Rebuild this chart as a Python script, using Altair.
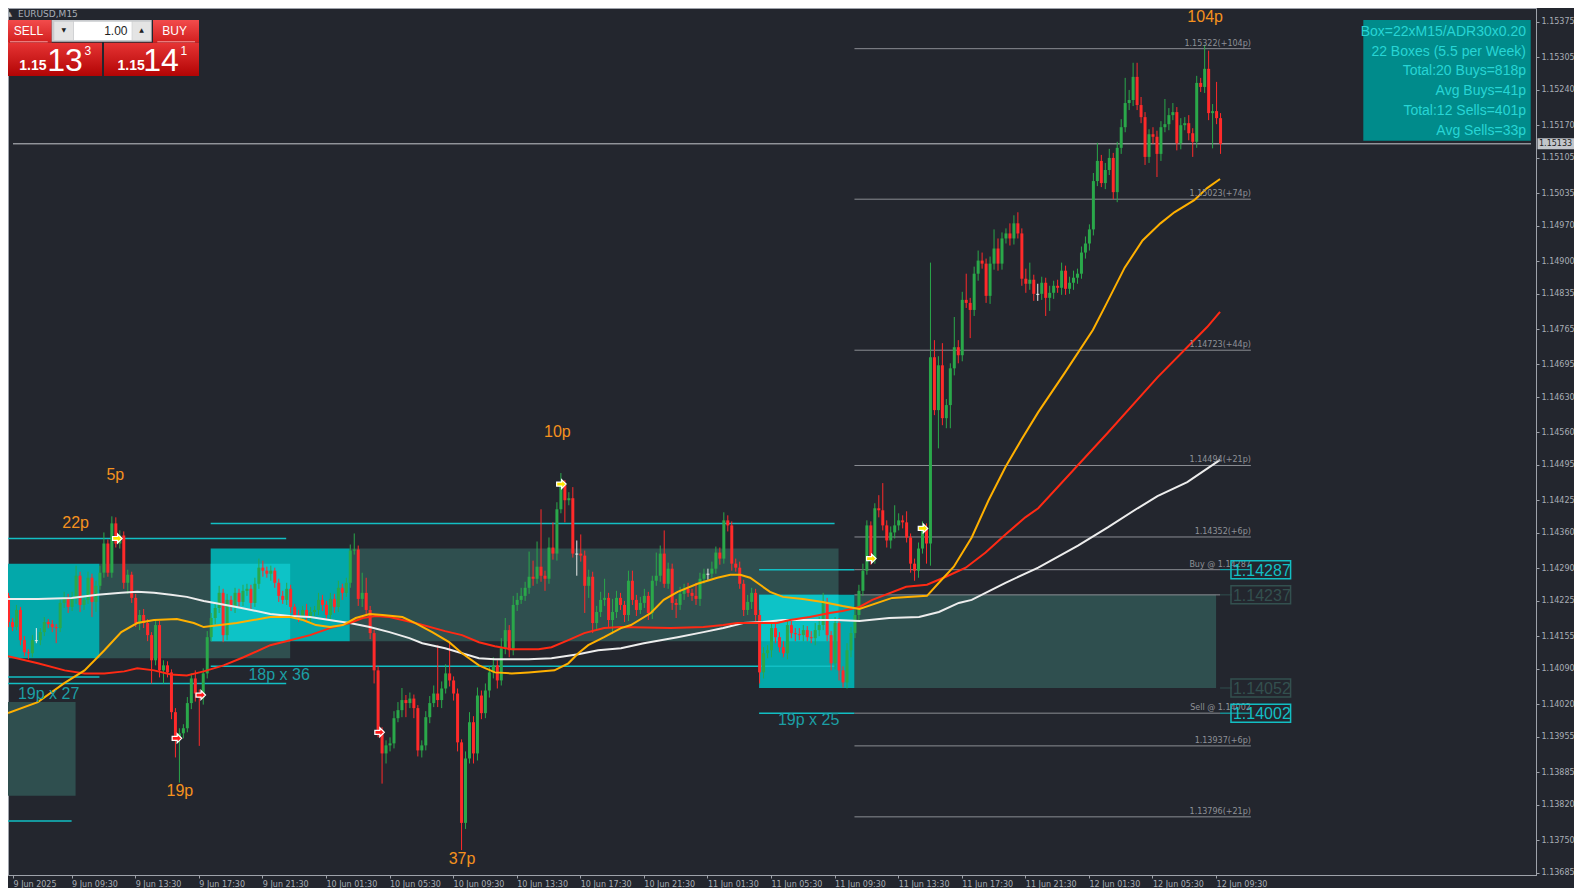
import altair as alt
import pandas as pd

# ------------------------------------------------------------------ data
time_labels = ["9 Jun 2025", "9 Jun 09:30", "9 Jun 13:30", "9 Jun 17:30", "9 Jun 21:30",
               "10 Jun 01:30", "10 Jun 05:30", "10 Jun 09:30", "10 Jun 13:30", "10 Jun 17:30",
               "10 Jun 21:30", "11 Jun 01:30", "11 Jun 05:30", "11 Jun 09:30", "11 Jun 13:30",
               "11 Jun 17:30", "11 Jun 21:30", "12 Jun 01:30", "12 Jun 05:30", "12 Jun 09:30"]
bars_per_label = 16

price_ticks = [1.13685, 1.13750, 1.13820, 1.13885, 1.13955, 1.14020, 1.14090, 1.14155, 1.14225,
               1.14290, 1.14360, 1.14425, 1.14495, 1.14560, 1.14630, 1.14695, 1.14765, 1.14835,
               1.14900, 1.14970, 1.15035, 1.15105, 1.15170, 1.15240, 1.15305, 1.15375]

first_open = 1.14235
closes = [
    1.14183, 1.14173, 1.14207, 1.14147, 1.14123, 1.14121, 1.14147, 1.14147, 1.14163, 1.14183,
    1.14179, 1.14173, 1.14171, 1.14221, 1.14231, 1.14213, 1.14229, 1.14275, 1.14217, 1.14227,
    1.14271, 1.14223, 1.14255, 1.14281, 1.14339, 1.14281, 1.14379, 1.14339, 1.14355, 1.14261,
    1.14277, 1.14231, 1.14181, 1.14197, 1.14181, 1.14157, 1.14107, 1.14177, 1.14087, 1.14097,
    1.14083, 1.14004, 1.13952, 1.13962, 1.13972, 1.14022, 1.14071, 1.14041, 1.14033, 1.14081,
    1.14153, 1.14191, 1.14211, 1.14241, 1.14157, 1.14227, 1.14213, 1.14241, 1.14223, 1.14245,
    1.14249, 1.14221, 1.14259, 1.14291, 1.14285, 1.14279, 1.14285, 1.14261, 1.14235, 1.14227,
    1.14249, 1.14213, 1.14197, 1.14193, 1.14207, 1.14193, 1.14203, 1.14207, 1.14227, 1.14217,
    1.14197, 1.14229, 1.14213, 1.14251, 1.14241, 1.14261, 1.14325, 1.14327, 1.14229, 1.14241,
    1.14207, 1.14161, 1.14087, 1.13968, 1.13922, 1.13938, 1.13942, 1.13992, 1.14008, 1.14028,
    1.14022, 1.14031, 1.14012, 1.13928, 1.13938, 1.13994, 1.14022, 1.14041, 1.14028, 1.14051,
    1.14081, 1.14067, 1.14041, 1.13944, 1.13784, 1.13912, 1.13984, 1.13922, 1.14037, 1.14002,
    1.14047, 1.14083, 1.14097, 1.14067, 1.14131, 1.14167, 1.14127, 1.14217, 1.14227, 1.14235,
    1.14251, 1.14273, 1.14269, 1.14293, 1.14275, 1.14269, 1.14331, 1.14319, 1.14407, 1.14455,
    1.14425, 1.14429, 1.14319, 1.14319, 1.14315, 1.14255, 1.14273, 1.14181, 1.14203, 1.14227,
    1.14231, 1.14187, 1.14203, 1.14231, 1.14217, 1.14197, 1.14265, 1.14227, 1.14207, 1.14221,
    1.14235, 1.14201, 1.14265, 1.14275, 1.14319, 1.14259, 1.14289, 1.14221, 1.14217, 1.14239,
    1.14249, 1.14241, 1.14235, 1.14229, 1.14269, 1.14279, 1.14279, 1.14289, 1.14321, 1.14309,
    1.14385, 1.14375, 1.14299, 1.14291, 1.14259, 1.14207, 1.14223, 1.14241, 1.14197, 1.14083,
    1.14121, 1.14127, 1.14171, 1.14153, 1.14133, 1.14121, 1.14177, 1.14161, 1.14159, 1.14157,
    1.14167, 1.14153, 1.14151, 1.14167, 1.14177, 1.14221, 1.14157, 1.14101, 1.14181, 1.14087,
    1.14063, 1.14127, 1.14161, 1.14197, 1.14245, 1.14285, 1.14375, 1.14309, 1.14409, 1.14405,
    1.14375, 1.14345, 1.14361, 1.14375, 1.14385, 1.14381, 1.14351, 1.14299, 1.14285, 1.14329,
    1.14369, 1.14339, 1.14709, 1.14604, 1.14693, 1.14588, 1.14614, 1.14687, 1.14729, 1.14713,
    1.14823, 1.14817, 1.14803, 1.14875, 1.14901, 1.14895, 1.14831, 1.14895, 1.14925, 1.14895,
    1.14945, 1.14955, 1.14945, 1.14975, 1.14955, 1.14865, 1.14855, 1.14863, 1.14835, 1.14835,
    1.14857, 1.14827, 1.14837, 1.14851, 1.14847, 1.14881, 1.14845, 1.14857, 1.14867, 1.14875,
    1.14917, 1.14935, 1.14963, 1.15059, 1.15099, 1.15055, 1.15081, 1.15105, 1.15037, 1.15125,
    1.15166, 1.15214, 1.15220, 1.15266, 1.15210, 1.15186, 1.15107, 1.15152, 1.15147, 1.15113,
    1.15166, 1.15172, 1.15190, 1.15196, 1.15134, 1.15170, 1.15174, 1.15154, 1.15137, 1.15254,
    1.15246, 1.15282, 1.15194, 1.15198, 1.15184, 1.15133,
]
# upper / lower wick lengths in points (0.00001)
wick_up = [
    6, 8, 10, 6, 8, 6, 10, 24, 8, 10, 6, 8, 6, 10, 12, 8, 14, 20, 8, 10,
    12, 8, 10, 14, 22, 8, 14, 12, 10, 8, 10, 6, 8, 10, 12, 8, 6, 12, 8, 10,
    8, 6, 8, 10, 8, 12, 10, 16, 8, 10, 12, 10, 8, 14, 8, 12, 8, 10, 8, 12,
    10, 8, 12, 18, 14, 8, 10, 6, 8, 10, 12, 8, 6, 10, 8, 12, 10, 8, 14, 10,
    8, 12, 10, 14, 8, 10, 12, 32, 8, 40, 30, 8, 6, 8, 6, 10, 12, 14, 16, 24,
    10, 12, 8, 6, 10, 12, 14, 16, 96, 14, 18, 62, 8, 10, 6, 14, 20, 12, 16, 10,
    14, 12, 16, 10, 20, 24, 10, 18, 14, 16, 12, 50, 32, 50, 114, 10, 20, 50, 14, 24,
    10, 12, 22, 26, 38, 10, 14, 10, 12, 16, 38, 10, 26, 14, 10, 8, 20, 20, 10, 12,
    14, 8, 10, 46, 16, 46, 12, 10, 8, 14, 10, 12, 8, 26, 12, 10, 10, 14, 12, 10,
    16, 10, 8, 10, 12, 8, 14, 10, 8, 10, 12, 10, 14, 8, 10, 12, 10, 8, 10, 12,
    10, 8, 12, 14, 16, 20, 10, 8, 12, 10, 8, 14, 12, 16, 12, 14, 10, 8, 10, 26,
    54, 10, 12, 40, 14, 10, 22, 8, 10, 12, 14, 10, 188, 34, 18, 44, 12, 10, 60, 14,
    16, 52, 10, 14, 20, 16, 10, 14, 38, 20, 12, 10, 20, 16, 22, 10, 20, 34, 10, 20,
    12, 10, 14, 10, 12, 16, 10, 12, 14, 10, 12, 14, 10, 16, 36, 12, 14, 18, 10, 12,
    16, 50, 20, 28, 28, 16, 10, 10, 14, 12, 12, 50, 14, 18, 10, 14, 12, 16, 10, 14,
    10, 48, 36, 14, 58, 10,
]
wick_dn = [
    10, 8, 6, 10, 8, 12, 8, 6, 10, 8, 8, 10, 30, 8, 10, 12, 8, 10, 14, 10,
    8, 30, 20, 8, 10, 8, 10, 8, 10, 12, 22, 10, 8, 14, 10, 12, 46, 10, 14, 26,
    10, 14, 38, 88, 10, 8, 12, 16, 96, 14, 10, 8, 12, 10, 14, 10, 8, 12, 10, 8,
    10, 12, 8, 10, 12, 8, 14, 10, 12, 8, 10, 12, 8, 10, 8, 12, 10, 8, 10, 12,
    10, 8, 12, 10, 14, 8, 10, 8, 14, 16, 10, 12, 26, 14, 60, 20, 12, 10, 8, 14,
    28, 10, 20, 12, 14, 10, 12, 8, 14, 16, 10, 12, 14, 18, 54, 12, 10, 20, 14, 12,
    10, 14, 12, 16, 10, 12, 14, 10, 12, 8, 10, 12, 14, 10, 12, 24, 10, 12, 14, 8,
    44, 10, 8, 44, 12, 54, 24, 20, 12, 10, 12, 14, 28, 12, 10, 14, 12, 10, 12, 8,
    10, 14, 12, 10, 12, 8, 10, 14, 26, 10, 12, 8, 10, 12, 14, 10, 12, 8, 10, 12,
    10, 12, 14, 8, 10, 12, 10, 14, 12, 22, 12, 10, 14, 12, 10, 8, 12, 10, 14, 10,
    12, 8, 10, 14, 12, 10, 12, 14, 12, 20, 10, 12, 14, 10, 12, 10, 8, 12, 10, 14,
    10, 14, 16, 12, 10, 12, 10, 18, 20, 14, 10, 40, 44, 10, 76, 14, 20, 46, 14, 16,
    12, 10, 56, 12, 14, 10, 14, 16, 12, 14, 12, 10, 14, 12, 10, 14, 18, 12, 14, 14,
    12, 36, 26, 12, 10, 14, 12, 10, 14, 12, 10, 12, 14, 12, 10, 8, 12, 10, 14, 20,
    12, 10, 14, 12, 10, 12, 16, 12, 14, 46, 14, 10, 12, 10, 14, 12, 10, 14, 30, 12,
    10, 12, 14, 70, 12, 20,
]

ma_fast = [(0, 1.14002), (7.5, 1.14024), (14.25, 1.14062), (19.25, 1.14087), (24.25, 1.14127),
           (28.5, 1.14163), (32.5, 1.14181), (36.75, 1.14187), (42.5, 1.14189), (46.75, 1.14181),
           (49.25, 1.14173), (57.5, 1.14181), (66, 1.14193), (71, 1.14193), (74.25, 1.14187),
           (77.5, 1.14177), (81, 1.14173), (84.25, 1.14177), (87.5, 1.14191), (91, 1.14199),
           (94.25, 1.14197), (99.25, 1.14193), (102.5, 1.14181), (106.75, 1.14163), (111, 1.14143),
           (114.25, 1.14121), (118.5, 1.14097), (122.5, 1.14083), (126.75, 1.14081), (131, 1.14083),
           (137.5, 1.14087), (141, 1.14101), (143.5, 1.14121), (146, 1.14137), (150, 1.14153),
           (154.25, 1.14171), (156.75, 1.14177), (161.75, 1.14201), (165, 1.14227), (168.5, 1.14243),
           (173.5, 1.14259), (178.5, 1.14271), (181.75, 1.14277), (184.25, 1.14277), (186.75, 1.14271),
           (189.25, 1.14257), (191.75, 1.14243), (195, 1.14233), (200, 1.14229), (205, 1.14223),
           (210, 1.14215), (214.25, 1.14209), (222.5, 1.14231), (231.25, 1.14235), (234.25, 1.14261),
           (238, 1.14293), (242.5, 1.14351), (246.75, 1.14425), (251, 1.14491), (255, 1.14545),
           (259.25, 1.14600), (266, 1.14679), (273, 1.14763), (276, 1.14809), (281, 1.14887),
           (285.5, 1.14941), (290, 1.14975), (293.5, 1.14997), (298.5, 1.15021), (301.75, 1.15045),
           (305, 1.15063)]
ma_mid = [(0, 1.14115), (7.5, 1.14101), (14.25, 1.14087), (19.25, 1.14081), (24.25, 1.14081),
          (29.25, 1.14085), (32.5, 1.14091), (36.75, 1.14087), (41, 1.14079), (45, 1.14077),
          (49.25, 1.14085), (54.25, 1.14097), (59.25, 1.14113), (66, 1.14137), (71, 1.14147),
          (76, 1.14157), (81, 1.14171), (86, 1.14181), (89.25, 1.14191), (92.5, 1.14195),
          (96, 1.14193), (99.25, 1.14187), (102.5, 1.14181), (110, 1.14165), (114.25, 1.14157),
          (118.5, 1.14143), (122.5, 1.14135), (126.75, 1.14129), (133.5, 1.14129), (136.75, 1.14133),
          (141, 1.14147), (145, 1.14161), (150, 1.14171), (154.25, 1.14173), (166.75, 1.14171),
          (175, 1.14173), (180, 1.14177), (183.5, 1.14181), (188.5, 1.14181), (193.5, 1.14181),
          (196.75, 1.14187), (201.75, 1.14193), (206.75, 1.14201), (210, 1.14205), (214.25, 1.14213),
          (217.5, 1.14227), (226, 1.14253), (231.25, 1.14257), (236, 1.14273), (241, 1.14291),
          (246, 1.14321), (251, 1.14357), (256, 1.14391), (259.25, 1.14409), (276.75, 1.14559),
          (289.25, 1.14669), (301.75, 1.14769), (305, 1.14799)]
ma_slow = [(0, 1.14229), (7.5, 1.14229), (16, 1.14231), (22.5, 1.14237), (28.5, 1.14241),
           (32.5, 1.14243), (36.75, 1.14241), (41, 1.14237), (45, 1.14233), (49.25, 1.14225),
           (57.5, 1.14213), (66, 1.14199), (71, 1.14195), (76, 1.14193), (82.5, 1.14185),
           (86, 1.14181), (91, 1.14173), (96, 1.14163), (101, 1.14151), (104.25, 1.14141),
           (110, 1.14131), (114.25, 1.14121), (118.5, 1.14111), (122.5, 1.14109), (131, 1.14109),
           (136.75, 1.14111), (143.5, 1.14119), (148.5, 1.14127), (154.25, 1.14131), (160, 1.14141),
           (168.5, 1.14153), (175, 1.14163), (180, 1.14171), (185, 1.14181), (190, 1.14183),
           (195, 1.14187), (201.75, 1.14187), (208.5, 1.14187), (214.25, 1.14185), (221.75, 1.14191),
           (229.25, 1.14193), (234.25, 1.14203), (239.25, 1.14221), (242.5, 1.14227), (251, 1.14261),
           (259.25, 1.14291), (269.25, 1.14335), (276.75, 1.14371), (284.25, 1.14409), (289.25, 1.14433),
           (296.75, 1.14461), (305, 1.14505)]

# boxes: (start bar, end bar, top, bottom, kind)
boxes = [(-3, 23, 1.14299, 1.14111, "cyan"), (23, 71, 1.14299, 1.14111, "dark"),
         (51, 86, 1.14329, 1.14145, "cyan"), (-3, 17, 1.14024, 1.13838, "dark"),
         (86, 209, 1.14329, 1.14145, "dark"), (189, 213, 1.14237, 1.14052, "cyan"),
         (213, 304, 1.14237, 1.14052, "dark")]
# box level lines: (start bar, end bar, price)
box_levels = [(-3, 70, 1.14349), (-3, 70, 1.14061), (-3, 23, 1.14074), (-3, 16, 1.13788),
              (51, 208, 1.14379), (51, 208, 1.14095), (189, 213, 1.14287), (189, 213, 1.14002)]
box_texts = [("19p x 27", 2.5, 1.14040), ("18p x 36", 60.5, 1.14077), ("19p x 25", 193.75, 1.13988)]
pip_texts = [("22p", 17, 1.14379), ("5p", 27, 1.14475), ("19p", 43.25, 1.13848),
             ("10p", 138.25, 1.14560), ("37p", 114.25, 1.13712), ("104p", 301.25, 1.15385)]

fib_prices = [1.15322, 1.15023, 1.14723, 1.14494, 1.14352, 1.13937, 1.13796]
fib_texts = ["1.15322(+104p)", "1.15023(+74p)", "1.14723(+44p)", "1.14494(+21p)",
             "1.14352(+6p)", "1.13937(+6p)", "1.13796(+21p)"]
trade_prices = [1.14287, 1.14002]
trade_texts = ["Buy @ 1.14287", "Sell @ 1.14002"]
tag_prices = [1.14287, 1.14237, 1.14052, 1.14002]
tag_kinds = ["cyan", "dark", "dark", "cyan"]

signals = [(27.5, 1.14349, "buy"), (139.25, 1.14457, "buy"), (217.25, 1.14309, "buy"),
           (230.25, 1.14369, "buy"), (42.5, 1.13952, "sell"), (48.5, 1.14038, "sell"),
           (93.5, 1.13964, "sell")]

info_lines = ["Box=22xM15/ADR30x0.20", "22 Boxes (5.5 per Week)", "Total:20 Buys=818p",
              "Avg Buys=41p", "Total:12 Sells=401p", "Avg Sells=33p"]
symbol_title = "EURUSD,M15"
lot_text = "1.00"
sell_quote = ("1.15", "13", "3")
buy_quote = ("1.15", "14", "1")

# ------------------------------------------------------------------ style
BG = "#23262e"
FRAME = "#9ea2aa"
AXIS_TXT = "#a9aeb6"
UP, DN, DOJI = "#2aa84a", "#ff2a2a", "#ececec"
CYAN_BOX, BRIGHT_BOX, DARK_BOX = "#03a8aa", "#0dc3c7", "#2f4f4f"
CYAN_LINE = "#12bfc4"
ORANGE = "#f5921e"
TEAL_TXT = "#1c9fa5"
GRAY_LINE = "#8a8d93"
W, H = 1528, 867
PAD_R, PAD_B = 38, 13
X_DOM = [1.25, 383.25]
Y_DOM = [1.136805, 1.154028]

xs = alt.Scale(domain=X_DOM, nice=False, zero=False)
ys = alt.Scale(domain=Y_DOM, nice=False, zero=False)

label_js = ("[" + ",".join("'" + s + "'" for s in time_labels) + "][round(datum.value/%d)]"
            % bars_per_label)
x_vals = [X_DOM[0]] + [bars_per_label * k for k in range(1, len(time_labels))]

x_axis = alt.Axis(values=x_vals, labelExpr=label_js, orient="bottom", labelAlign="left",
                  labelPadding=2, tickSize=3, tickColor=FRAME, domainColor=FRAME,
                  labelColor=AXIS_TXT, labelFont="DejaVu Sans", labelFontSize=8, grid=False,
                  labelOverlap=False, labelFlush=False, title=None)
y_axis = alt.Axis(values=price_ticks, format=".5f", orient="right", labelPadding=2, tickSize=3,
                  tickColor=FRAME, domainColor=FRAME, labelColor=AXIS_TXT,
                  labelFont="DejaVu Sans", labelFontSize=8, grid=False, labelOverlap=False,
                  labelFlush=False, title=None)


def X(f):
    return alt.X(f, type="quantitative", scale=xs, axis=x_axis, title=None)


def Y(f):
    return alt.Y(f, type="quantitative", scale=ys, axis=y_axis, title=None)


# ------------------------------------------------------------------ frames
opens = [first_open] + closes[:-1]
rows = []
for i, (o, c, u, d) in enumerate(zip(opens, closes, wick_up, wick_dn)):
    diff = round(c - o, 6)
    col = UP if diff > 0 else (DN if diff < 0 else DOJI)
    rows.append(dict(i=i, o=o, c=c, h=max(o, c) + u * 1e-5, l=min(o, c) - d * 1e-5,
                     col=col, doji=(diff == 0)))
cdf = pd.DataFrame(rows)
body_df = cdf[~cdf["doji"]]
doji_df = cdf[cdf["doji"]]

box_col = {"cyan": CYAN_BOX, "dark": DARK_BOX}
bdf = pd.DataFrame([dict(x1=a, x2=b, top=t, bot=btm, col=box_col[k], kind=k)
                    for a, b, t, btm, k in boxes])
ov = []
for _, cb in bdf[bdf.kind == "cyan"].iterrows():
    for _, db in bdf[bdf.kind == "dark"].iterrows():
        x1, x2 = max(cb.x1, db.x1), min(cb.x2, db.x2)
        top, bot = min(cb.top, db.top), max(cb.bot, db.bot)
        if x1 < x2 and bot < top:
            ov.append(dict(x1=x1, x2=x2, top=top, bot=bot, col=BRIGHT_BOX))
ovdf = pd.DataFrame(ov)
bdf_dark = bdf[bdf.kind == "dark"]
bdf_cyan = bdf[bdf.kind == "cyan"]

lvl_df = pd.DataFrame([dict(x1=a, x2=b, p=p) for a, b, p in box_levels])

FIB_X1, FIB_X2, SEG_X = 213, 312.75, 305
fib_df = pd.DataFrame(dict(p=fib_prices, t=fib_texts))
tr_df = pd.DataFrame(dict(p=trade_prices, t=trade_texts))
segs = []
for p in trade_prices:
    segs.append(dict(x1=FIB_X1, x2=SEG_X, p=p, col=GRAY_LINE))
    segs.append(dict(x1=SEG_X, x2=312.5, p=p, col=CYAN_LINE))
segs.append(dict(x1=FIB_X1, x2=SEG_X, p=tag_prices[1], col=GRAY_LINE))
segs.append(dict(x1=SEG_X, x2=308, p=tag_prices[1], col=DARK_BOX))
segs.append(dict(x1=SEG_X, x2=308, p=tag_prices[2], col=DARK_BOX))
seg_df = pd.DataFrame(segs)
tag_df = pd.DataFrame(dict(p=tag_prices, t=[f"{p:.5f}" for p in tag_prices],
                           col=[CYAN_LINE if k == "cyan" else "#33504f" for k in tag_kinds]))

ma_rows = []
for series, col in ((ma_slow, "#ededed"), (ma_mid, "#ff2a14"), (ma_fast, "#ffb000")):
    for xi, p in series:
        ma_rows.append(dict(i=xi, p=p, col=col, s=col))
ma_df = pd.DataFrame(ma_rows)

sig_df = pd.DataFrame([dict(i=a, p=b, col=("#ffe600" if k == "buy" else "#ff1a1a"))
                       for a, b, k in signals])
pip_df = pd.DataFrame([dict(t=t, i=a, p=b) for t, a, b in pip_texts])
btx_df = pd.DataFrame([dict(t=t, i=a, p=b) for t, a, b in box_texts])

last_price = closes[-1]
cur_df = pd.DataFrame(dict(p=[last_price], t=[f"{last_price:.5f}"]))

layers = []
# invisible first layer carrying the axes
layers.append(alt.Chart(cdf).mark_rule(opacity=0).encode(x=X("i"), y=Y("l"), y2="h:Q"))
# boxes
for d in (bdf_dark, bdf_cyan, ovdf):
    layers.append(alt.Chart(d).mark_rect(clip=True).encode(
        x=X("x1"), x2="x2", y=Y("top"), y2="bot", color=alt.Color("col:N", scale=None)))
# box level lines
layers.append(alt.Chart(lvl_df).mark_rule(clip=True, color=CYAN_LINE, strokeWidth=1.5).encode(
    x=X("x1"), x2="x2", y=Y("p")))
# fib / trade lines
fib_lines = fib_df.assign(x1=FIB_X1, x2=FIB_X2)
layers.append(alt.Chart(fib_lines).mark_rule(clip=True, color=GRAY_LINE, strokeWidth=1).encode(
    x=X("x1"), x2="x2", y=Y("p")))
layers.append(alt.Chart(seg_df).mark_rule(clip=True, strokeWidth=1).encode(
    x=X("x1"), x2="x2", y=Y("p"), color=alt.Color("col:N", scale=None)))
# current price line
layers.append(alt.Chart(cur_df.assign(x1=X_DOM[0], x2=X_DOM[1])).mark_rule(
    clip=True, color="#c4c7cc", strokeWidth=1).encode(x=X("x1"), x2="x2", y=Y("p")))
# candles
layers.append(alt.Chart(cdf).mark_rule(clip=True, strokeWidth=1, xOffset=0.5).encode(
    x=X("i"), y=Y("l"), y2="h:Q", color=alt.Color("col:N", scale=None)))
layers.append(alt.Chart(body_df).mark_bar(clip=True, size=3, xOffset=0.5).encode(
    x=X("i"), y=Y("o"), y2="c:Q", color=alt.Color("col:N", scale=None)))
layers.append(alt.Chart(doji_df).mark_rule(clip=True, strokeWidth=1, xOffset=-1, x2Offset=2,
                                           yOffset=0.5, y2Offset=0.5).encode(
    x=X("i"), x2="i:Q", y=Y("o"), color=alt.Color("col:N", scale=None)))
# moving averages
layers.append(alt.Chart(ma_df).mark_line(clip=True, strokeWidth=2).encode(
    x=X("i"), y=Y("p"), color=alt.Color("col:N", scale=None), detail="s:N"))
# signal arrows
ARROW = "M -1 -0.42 L 0.05 -0.42 L 0.05 -0.95 L 1 0 L 0.05 0.95 L 0.05 0.42 L -1 0.42 Z"
layers.append(alt.Chart(sig_df).mark_point(clip=True, shape=ARROW, filled=True, size=90,
                                           stroke="white", strokeWidth=1.2, opacity=1).encode(
    x=X("i"), y=Y("p"), fill=alt.Fill("col:N", scale=None)))
# labels
layers.append(alt.Chart(pip_df).mark_text(clip=True, font="Liberation Sans", fontSize=16,
                                          color=ORANGE, baseline="middle").encode(
    x=X("i"), y=Y("p"), text="t:N"))
layers.append(alt.Chart(btx_df).mark_text(clip=True, font="Liberation Sans", fontSize=16,
                                          color=TEAL_TXT, align="left", baseline="middle").encode(
    x=X("i"), y=Y("p"), text="t:N"))
layers.append(alt.Chart(fib_df.assign(x=FIB_X2)).mark_text(
    clip=True, font="DejaVu Sans", fontSize=8, color="#8e9197", align="right",
    baseline="bottom", dy=-1).encode(x=X("x"), y=Y("p"), text="t:N"))
layers.append(alt.Chart(tr_df.assign(x=FIB_X2)).mark_text(
    clip=True, font="DejaVu Sans", fontSize=8, color="#8e9197", align="right",
    baseline="bottom", dy=-1).encode(x=X("x"), y=Y("p"), text="t:N"))
# price tags
layers.append(alt.Chart(tag_df.assign(x1=307.75, x2=322.75)).mark_rect(
    clip=True, fillOpacity=0, strokeWidth=1.5, yOffset=-9, y2Offset=9).encode(
    x=X("x1"), x2="x2", y=Y("p"), y2="p:Q", stroke=alt.Stroke("col:N", scale=None)))
layers.append(alt.Chart(tag_df.assign(x=308.25)).mark_text(
    clip=True, font="Liberation Sans", fontSize=16, align="left", baseline="middle", dy=1).encode(
    x=X("x"), y=Y("p"), text="t:N", color=alt.Color("col:N", scale=None)))
# current price tag on axis
layers.append(alt.Chart(cur_df).mark_rect(color="#c3c6cb", yOffset=-5.5, y2Offset=5.5).encode(
    x=alt.value(W + 1.5), x2=alt.value(W + PAD_R), y=Y("p"), y2="p:Q"))
layers.append(alt.Chart(cur_df).mark_text(font="DejaVu Sans", fontSize=8, color="#1c1c1c",
                                          align="left", baseline="middle").encode(
    x=alt.value(W + 3), y=Y("p"), text="t:N"))

# ------------------------------------------------------------------ UI chrome (pixel placed)
ONE = pd.DataFrame({"k": [0]})


def px_rect(x1, y1, x2, y2, color, **kw):
    return alt.Chart(ONE).mark_rect(color=color, clip=True, **kw).encode(
        x=alt.value(x1), x2=alt.value(x2), y=alt.value(y1), y2=alt.value(y2))


def px_text(x, y, text, **kw):
    return alt.Chart(ONE).mark_text(text=text, clip=True, **kw).encode(
        x=alt.value(x), y=alt.value(y))


def grad(c1, c2):
    return alt.Gradient(gradient="linear", x1=0, x2=0, y1=0, y2=1,
                        stops=[alt.GradientStop(color=c1, offset=0),
                               alt.GradientStop(color=c2, offset=1)])


# info panel
layers.append(px_rect(1355.3, 12, 1522.7, 132.7, "#008b8b"))
for k, line in enumerate(info_lines):
    layers.append(px_text(1518, 23.7 + 19.86 * k, line, font="Liberation Sans", fontSize=14,
                          color="#27d5d5", align="right", baseline="middle"))
# symbol title
layers.append(px_text(1.5, 5.5, "\u25b2", font="DejaVu Sans", fontSize=7, color=AXIS_TXT,
                      align="center", baseline="middle"))
layers.append(px_text(10, 5.5, symbol_title, font="DejaVu Sans", fontSize=9, color=AXIS_TXT,
                      align="left", baseline="middle"))
# trading panel
layers.append(px_rect(-2, 12, 43.7, 34.7, grad("#f24c4c", "#d21e1e")))
layers.append(px_rect(145, 12, 191, 34.7, grad("#f24c4c", "#d21e1e")))
layers.append(px_rect(-2, 34.7, 94, 68, grad("#e63434", "#b20404")))
layers.append(px_rect(96, 34.7, 191, 68, grad("#e63434", "#b20404")))
layers.append(px_rect(2, 33.3, 39.7, 34.3, "#f39a9a"))
layers.append(px_rect(149.3, 33.3, 187, 34.3, "#f39a9a"))
layers.append(px_rect(43.7, 12, 143.7, 33.7, "#c9cbce"))
layers.append(px_rect(46.3, 13.7, 65.3, 32, "#e4e4e4"))
layers.append(px_rect(66, 13.7, 123.7, 32, "#ffffff"))
layers.append(px_rect(124.3, 13.7, 142.7, 32, "#e4e4e4"))
layers.append(px_text(55.8, 22, "\u25bc", font="DejaVu Sans", fontSize=6, color="#202020",
                      align="center", baseline="middle"))
layers.append(px_text(133.5, 22, "\u25b2", font="DejaVu Sans", fontSize=6, color="#202020",
                      align="center", baseline="middle"))
layers.append(px_text(119.5, 22.5, lot_text, font="Liberation Sans", fontSize=12,
                      color="#1e1e1e", align="right", baseline="middle"))
layers.append(px_text(20.5, 22.8, "SELL", font="Liberation Sans", fontSize=12, color="white",
                      align="center", baseline="middle"))
layers.append(px_text(166.7, 22.8, "BUY", font="Liberation Sans", fontSize=12, color="white",
                      align="center", baseline="middle"))
for (small, big, sup), (x_s, x_b, x_p) in ((sell_quote, (11.2, 39.2, 76.5)),
                                           (buy_quote, (109.5, 135.2, 172.4))):
    layers.append(px_text(x_s, 62, small, font="Liberation Sans", fontSize=14, fontWeight="bold",
                          color="white", align="left", baseline="alphabetic"))
    layers.append(px_text(x_b, 62.5, big, font="Liberation Sans", fontSize=32, color="white",
                          align="left", baseline="alphabetic"))
    layers.append(px_text(x_p, 47, sup, font="Liberation Sans", fontSize=12, color="white",
                          align="left", baseline="alphabetic"))

chart = alt.layer(*layers).properties(
    width=W, height=H, background=BG,
    autosize=alt.AutoSizeParams(type="none"),
    padding={"left": 0, "top": 0, "right": PAD_R, "bottom": PAD_B},
).configure_view(stroke=FRAME, strokeWidth=1)

chart.save("out.html", embed_options={"renderer": "svg", "actions": False})
